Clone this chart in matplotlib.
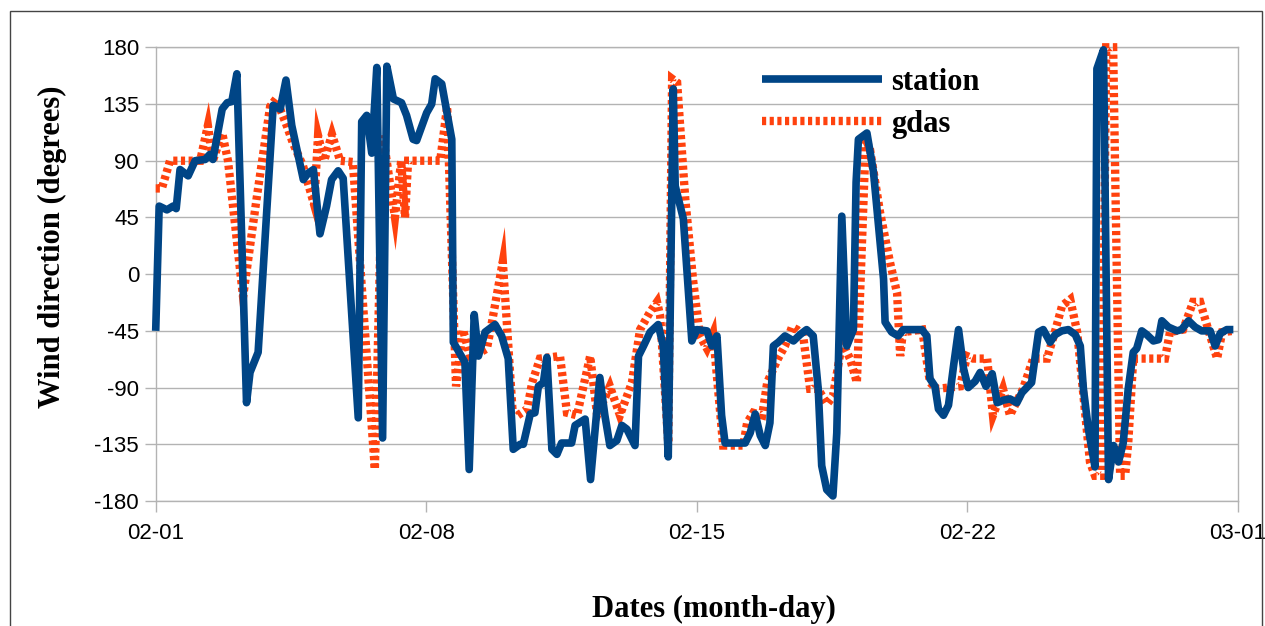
import matplotlib.pyplot as plt
from matplotlib.patches import Rectangle

plt.rcParams["axes.unicode_minus"] = False

# days after 02-01 and wind direction (degrees)
station_day = [
    0.00, 0.09, 0.29, 0.45, 0.53, 0.63, 0.84, 1.02, 1.28, 1.40,
    1.48, 1.72, 1.85, 1.97, 2.10, 2.35, 2.44, 2.65, 3.04, 3.22,
    3.37, 3.52, 3.82, 3.94, 4.08, 4.25, 4.42, 4.55, 4.72, 4.85,
    5.24, 5.33, 5.46, 5.59, 5.72, 5.87, 5.98, 6.15, 6.36, 6.49,
    6.66, 6.75, 7.01, 7.14, 7.23, 7.40, 7.66, 7.70, 8.00, 8.11,
    8.24, 8.35, 8.52, 8.78, 8.95, 9.12, 9.25, 9.43, 9.51, 9.69,
    9.81, 9.90, 10.03, 10.12, 10.25, 10.38, 10.50, 10.76, 10.85, 11.11,
    11.25, 11.49, 11.62, 11.75, 11.93, 12.06, 12.19, 12.40, 12.49, 12.62,
    12.79, 13.00, 13.13, 13.26, 13.39, 13.44, 13.65, 13.87, 14.00, 14.26,
    14.39, 14.52, 14.64, 14.73, 15.25, 15.38, 15.51, 15.64, 15.77, 15.89,
    15.98, 16.11, 16.28, 16.50, 16.67, 16.84, 17.01, 17.14, 17.23, 17.36,
    17.52, 17.62, 17.75, 17.88, 18.05, 18.12, 18.18, 18.40, 18.57, 18.83,
    18.87, 19.04, 19.21, 19.34, 19.82, 19.95, 20.03, 20.16, 20.25, 20.38,
    20.51, 20.64, 20.77, 20.90, 21.02, 21.20, 21.33, 21.48, 21.64, 21.77,
    21.93, 22.10, 22.28, 22.41, 22.66, 22.84, 22.96, 23.14, 23.27, 23.44,
    23.61, 23.79, 23.92, 24.00, 24.13, 24.30, 24.35, 24.52, 24.65, 24.78,
    24.91, 25.03, 25.16, 25.29, 25.38, 25.51, 25.64, 25.81, 25.94, 26.03,
    26.20, 26.42, 26.54, 26.72, 26.89, 27.06, 27.28, 27.41, 27.54, 27.71,
    27.88,
]
station_deg = [
    -45, 54, 51, 54, 52, 83, 78, 90, 91, 95,
    91, 131, 136, 137, 159, -102, -78, -62, 134, 131,
    154, 118, 75, 80, 83, 32, 54, 75, 82, 76,
    -114, 121, 126, 96, 164, -130, 165, 139, 136, 126,
    107, 106, 128, 135, 155, 151, 107, -54, -70, -155,
    -32, -65, -46, -40, -49, -67, -139, -135, -135, -111,
    -110, -89, -86, -66, -139, -143, -134, -134, -120, -115,
    -163, -82, -112, -136, -132, -120, -123, -136, -65, -57,
    -46, -40, -57, -145, 147, 70, 44, -53, -44, -45,
    -57, -49, -112, -134, -134, -126, -111, -128, -136, -118,
    -57, -54, -49, -53, -48, -44, -49, -91, -152, -171,
    -176, -126, 46, -57, -44, 73, 107, 112, 81, -4,
    -38, -46, -49, -44, -44, -49, -83, -89, -107, -112,
    -104, -73, -44, -75, -90, -85, -78, -89, -79, -102,
    -100, -99, -102, -94, -86, -46, -44, -54, -48, -45,
    -44, -48, -57, -91, -123, -153, 163, 178, -163, -136,
    -149, -134, -91, -62, -59, -45, -48, -53, -52, -37,
    -42, -45, -44, -37, -42, -45, -45, -57, -47, -44,
    -44,
]

gdas_day = [
    0.00, 0.16, 0.37, 1.15, 1.35, 1.48, 1.72, 1.87, 2.26, 2.62,
    2.96, 3.11, 3.22, 3.40, 3.55, 3.81, 4.10, 4.20, 4.36, 4.56,
    4.77, 5.10, 5.67, 5.88, 6.19, 6.35, 6.45, 6.53, 7.36, 7.54,
    7.77, 7.95, 8.13, 8.34, 8.57, 8.70, 8.98, 9.24, 9.37, 9.61,
    9.74, 9.94, 10.46, 10.64, 10.90, 11.24, 11.42, 11.75, 12.01, 12.32,
    12.53, 12.79, 12.97, 13.05, 13.26, 13.36, 13.49, 13.70, 13.90, 14.08,
    14.26, 14.42, 14.68, 15.20, 15.30, 15.46, 15.69, 15.82, 16.10, 16.28,
    16.46, 16.59, 16.75, 16.93, 17.13, 17.37, 17.52, 17.76, 17.96, 18.14,
    18.37, 18.48, 18.74, 19.00, 19.18, 19.26, 19.33, 19.83, 20.03, 20.21,
    20.81, 20.99, 21.15, 21.51, 21.66, 21.92, 22.10, 22.44, 22.70, 23.06,
    23.27, 23.45, 23.66, 23.84, 24.17, 24.30, 24.48, 24.59, 24.77, 24.95,
    25.08, 25.16, 25.29, 26.11, 26.24, 26.58, 26.84, 27.02, 27.23, 27.46,
    27.59, 27.88,
]
gdas_deg = [
    68, 68, 90, 90, 118, 90, 112, 90, -18, 62,
    133, 139, 131, 117, 104, 86, 55, 110, 90, 111,
    90, 89, -155, 110, 45, 90, 45, 90, 90, 133,
    -89, -44, -65, -63, -59, -38, 10, -112, -112, -107,
    -86, -67, -65, -110, -112, -65, -112, -89, -112, -86,
    -44, -30, -22, -33, -134, 155, 152, 60, -4, -49,
    -59, -47, -136, -136, -118, -110, -112, -86, -67, -57,
    -42, -44, -49, -91, -91, -103, -97, -54, -67, -86,
    107, 99, 49, 9, -15, -65, -46, -44, -86, -91,
    -89, -65, -67, -67, -112, -91, -112, -91, -67, -67,
    -45, -25, -20, -46, -149, -160, -160, 180, 180, -160,
    -160, -134, -67, -67, -46, -44, -22, -22, -44, -67,
    -46, -45,
]

tick_days = [0, 7, 14, 21, 28]
tick_labels = ["02-01", "02-08", "02-15", "02-22", "03-01"]
y_ticks = [-180, -135, -90, -45, 0, 45, 90, 135, 180]

assert len(station_day) == len(station_deg)
assert len(gdas_day) == len(gdas_deg)

W, H = 1265, 626
fig = plt.figure(figsize=(W / 100, H / 100), dpi=100)
fig.patches.append(Rectangle((9.5 / W, -0.1), (1262 - 9.5) / W, 1.1 - 10.5 / H,
                             transform=fig.transFigure, fill=False,
                             edgecolor="#444444", lw=1))

ax = fig.add_axes([155.7 / W, 1 - 501 / H, (1238 - 155.7) / W, (501 - 47.3) / H])

ax.plot(station_day, station_deg, color="#004586", lw=5.5, label="station",
        solid_joinstyle="round", solid_capstyle="butt", zorder=4, clip_on=False)
ax.plot(gdas_day, gdas_deg, color="#ff420e", lw=6, label="gdas",
        linestyle=(0, (0.5, 0.42)), dash_joinstyle="miter", dash_capstyle="butt",
        zorder=3, clip_on=False)

ax.set_xlim(0, 28)
ax.set_ylim(-180, 180)
ax.set_xticks(tick_days)
ax.set_xticklabels(tick_labels)
ax.set_yticks(y_ticks)
ax.yaxis.grid(True, color="#b3b3b3", lw=1)
ax.set_axisbelow(True)
for s in ax.spines.values():
    s.set_color("#b3b3b3")
    s.set_linewidth(1)
ax.tick_params(axis="both", colors="#b3b3b3", length=8, width=1,
               labelcolor="black", labelsize=16)
ax.tick_params(axis="x", pad=8)
ax.tick_params(axis="y", pad=4)
for lab in ax.get_xticklabels() + ax.get_yticklabels():
    lab.set_family("Liberation Sans")

lab_font = dict(family="Liberation Serif", weight="bold", size=22)
ax.set_ylabel("Wind direction (degrees)", **lab_font)
ax.set_xlabel("Dates (month-day)", **lab_font)
ax.yaxis.set_label_coords(-0.082, 0.56)
ax.xaxis.set_label_coords(0.516, -0.207)

ax.legend(loc="upper left", bbox_to_anchor=(0.56, 0.954), frameon=False,
          prop=dict(family="Liberation Serif", weight="bold", size=22),
          handlelength=3.93, handletextpad=0.3, borderpad=0, borderaxespad=0,
          labelspacing=0.42)

fig.savefig("out.png", dpi=100)
